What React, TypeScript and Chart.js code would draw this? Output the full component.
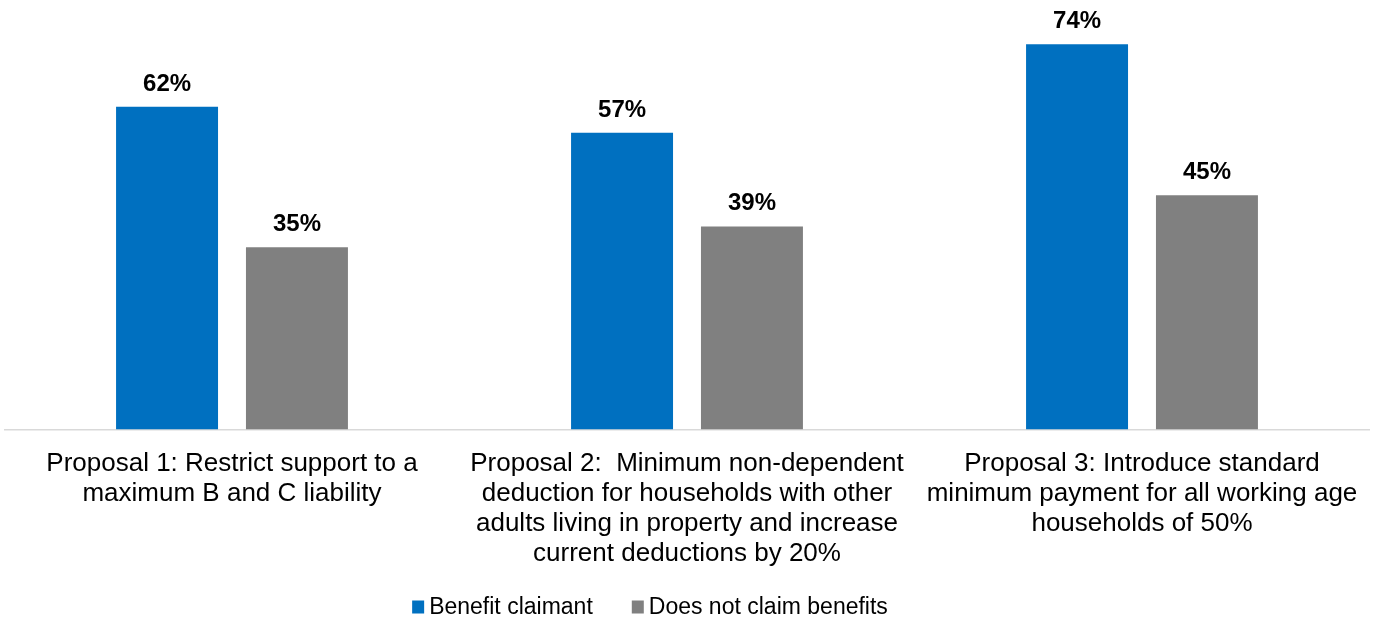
import { useEffect, useRef } from "react";
import { Chart, registerables } from "chart.js";

Chart.register(...registerables);

const FONT = "'Liberation Sans', Arial, sans-serif";

const categories: string[][] = [
  ["Proposal 1: Restrict support to a", "maximum B and C liability"],
  [
    "Proposal 2:  Minimum non-dependent",
    "deduction for households with other",
    "adults living in property and increase",
    "current deductions by 20%",
  ],
  [
    "Proposal 3: Introduce standard",
    "minimum payment for all working age",
    "households of 50%",
  ],
];

const seriesNames = ["Benefit claimant", "Does not claim benefits"];
const benefitClaimant = [62, 57, 74];
const doesNotClaim = [35, 39, 45];
const seriesColors = ["#0070C0", "#808080"];
const yMax = 80;

const valueLabels = {
  id: "valueLabels",
  afterDatasetsDraw(chart: any) {
    const ctx = chart.ctx;
    ctx.save();
    ctx.font = `bold 24px ${FONT}`;
    ctx.fillStyle = "#000000";
    ctx.textAlign = "center";
    ctx.textBaseline = "alphabetic";
    chart.data.datasets.forEach((ds: any, i: number) => {
      const meta = chart.getDatasetMeta(i);
      meta.data.forEach((bar: any, j: number) => {
        ctx.fillText(`${ds.data[j]}%`, bar.x, bar.y - 16);
      });
    });
    ctx.restore();
  },
};

const customLegend = {
  id: "customLegend",
  afterDraw(chart: any) {
    const ctx = chart.ctx;
    ctx.save();
    ctx.font = `23px ${FONT}`;
    ctx.textBaseline = "middle";
    ctx.textAlign = "left";
    const box = 12;
    const textGap = 5;
    const itemGap = 39;
    const items = chart.data.datasets.map((ds: any) => ({
      label: ds.label,
      color: ds.backgroundColor,
      w: box + textGap + ctx.measureText(ds.label).width,
    }));
    const total =
      items.reduce((s: number, it: any) => s + it.w, 0) +
      itemGap * (items.length - 1);
    const center = (chart.chartArea.left + chart.chartArea.right) / 2 - 37;
    let x = center - total / 2;
    const y = chart.height - 11;
    items.forEach((it: any) => {
      ctx.fillStyle = it.color;
      ctx.fillRect(x, y - 6.5, box, 13);
      ctx.fillStyle = "#000000";
      ctx.fillText(it.label, x + box + textGap, y + 1);
      x += it.w + itemGap;
    });
    ctx.restore();
  },
};

export default function App() {
  const canvasRef = useRef<HTMLCanvasElement | null>(null);

  useEffect(() => {
    if (!canvasRef.current) return;
    const chart = new Chart(canvasRef.current, {
      type: "bar",
      data: {
        labels: categories,
        datasets: [
          {
            label: seriesNames[0],
            data: benefitClaimant,
            backgroundColor: seriesColors[0],
            categoryPercentage: 0.571,
            barPercentage: 0.785,
          },
          {
            label: seriesNames[1],
            data: doesNotClaim,
            backgroundColor: seriesColors[1],
            categoryPercentage: 0.571,
            barPercentage: 0.785,
          },
        ],
      },
      options: {
        animation: false,
        responsive: false,
        maintainAspectRatio: false,
        layout: {
          padding: { left: 4.5, right: 11.5, top: 13, bottom: 30.5 },
        },
        plugins: {
          legend: { display: false },
          tooltip: { enabled: false },
        },
        scales: {
          x: {
            grid: { display: false, drawTicks: false },
            border: { display: true, color: "#D9D9D9", width: 1.5 },
            ticks: {
              color: "#000000",
              padding: 19,
              maxRotation: 0,
              autoSkip: false,
              font: { family: FONT, size: 26, lineHeight: 30 / 26 },
            },
          },
          y: {
            display: false,
            min: 0,
            max: yMax,
          },
        },
      },
      plugins: [valueLabels, customLegend],
    });
    return () => chart.destroy();
  }, []);

  return (
    <div
      style={{
        position: "fixed",
        left: 0,
        top: 0,
        width: 1381,
        height: 618,
        background: "#ffffff",
      }}
    >
      <canvas ref={canvasRef} width={1381} height={618} />
    </div>
  );
}
